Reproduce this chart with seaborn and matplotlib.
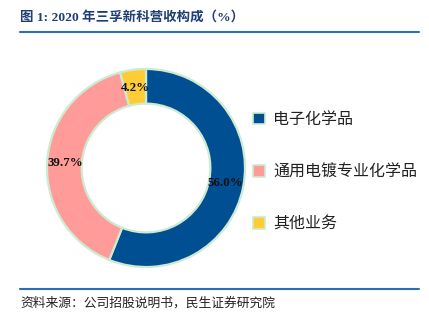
import matplotlib
matplotlib.use("Agg")
import matplotlib.pyplot as plt
from matplotlib.patches import Patch
import numpy as np
import seaborn as sns

categories = ["电子化学品", "通用电镀专业化学品", "其他业务"]
shares = [56.0, 39.7, 4.2]
labels = ["56.0%", "39.7%", "4.2%"]
colors = ["#004F93", "#FF9B98", "#FFCC33"]

title = "图 1: 2020 年三孚新科营收构成（%）"
source = "资料来源：公司招股说明书，民生证券研究院"

sns.set_theme(style="white")
plt.rcParams["font.family"] = ["Noto Sans CJK SC", "DejaVu Sans"]

W, H = 429, 322
fig = plt.figure(figsize=(W / 100, H / 100), dpi=100)
fig.patch.set_facecolor("white")

# donut axes: centre (146,168) px, radius ~101 px
cx, cy, r = 146, 168, 101
ax = fig.add_axes([(cx - r) / W, (H - cy - r) / H, 2 * r / W, 2 * r / H])
ax.pie(
    shares, colors=colors, startangle=90, counterclock=False,
    radius=1.0,
    wedgeprops=dict(width=0.35, edgecolor="#CDEBD0", linewidth=1.6),
)
total = sum(shares)
start = 90.0
for val, lab in zip(shares, labels):
    mid = start - val / total * 360 / 2
    start -= val / total * 360
    rad = np.deg2rad(mid)
    ax.text(0.82 * np.cos(rad), 0.82 * np.sin(rad), lab,
            ha="center", va="center", fontsize=9.3, fontweight="bold",
            family=["Liberation Serif"], color="#111111")
ax.set_xlim(-1.02, 1.02)
ax.set_ylim(-1.02, 1.02)
ax.set_aspect("equal")
ax.axis("off")

# legend
handles = [Patch(facecolor=c, edgecolor="#CDEBD0", linewidth=1.2) for c in colors]
leg = fig.legend(handles, categories, loc="upper left",
                 bbox_to_anchor=(247 / W, 1 - 105 / H), frameon=False,
                 fontsize=11.5, handlelength=0.7, handleheight=0.7,
                 handletextpad=0.55, labelspacing=2.2, borderaxespad=0)
for t in leg.get_texts():
    t.set_color("#222222")

# header and footer
fig.text(20 / W, 1 - 17 / H, title, fontsize=9.7, fontweight="bold",
         color="#1F3E73", ha="left", va="center",
         family=["Liberation Serif", "Noto Sans CJK SC"])
fig.add_artist(plt.Line2D([20 / W, 419 / W], [1 - 32 / H, 1 - 32 / H],
                          color="#2E6DB0", linewidth=1.5))
fig.add_artist(plt.Line2D([20 / W, 419 / W], [1 - 289 / H, 1 - 289 / H],
                          color="#2E6DB0", linewidth=1.5))
fig.text(20 / W, 1 - 303 / H, source, fontsize=9.2, color="#222222",
         ha="left", va="center")

fig.savefig("out.png", dpi=100)
